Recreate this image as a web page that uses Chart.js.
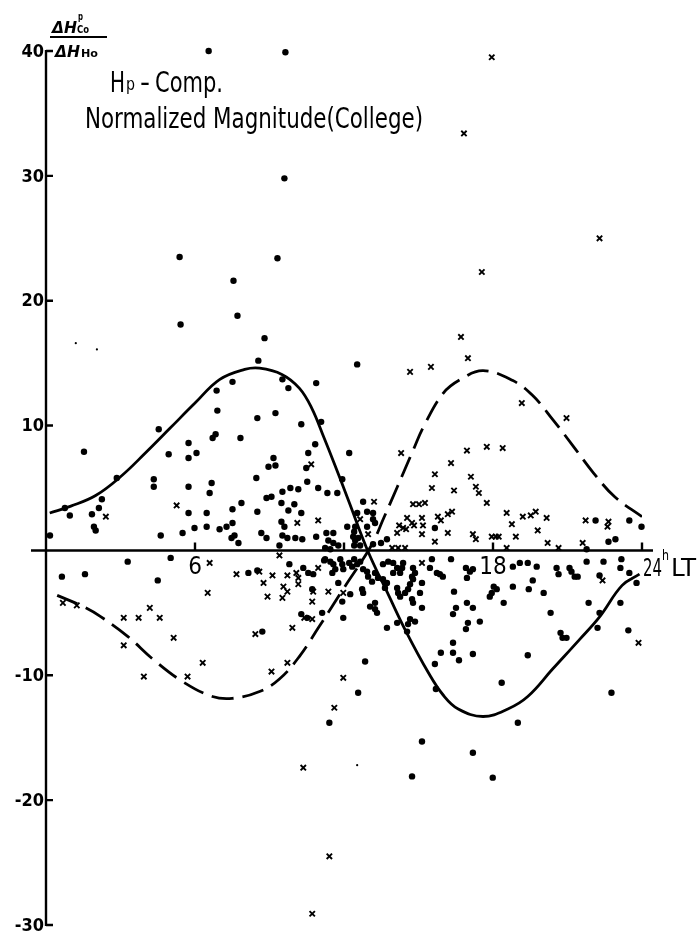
<!DOCTYPE html>
<html>
<head>
<meta charset="utf-8">
<title>Hp-Comp. Normalized Magnitude (College)</title>
<script src="https://cdn.jsdelivr.net/npm/chart.js@4.4.0/dist/chart.umd.min.js"></script>
<style>
  html, body { margin: 0; padding: 0; background: #fff; }
  #wrap { position: relative; width: 697px; height: 933px; }
</style>
</head>
<body>
<div id="wrap"><canvas id="hpChart" width="697" height="933"></canvas></div>
<script>
// axis ticks
var yTickValues = [40, 30, 20, 10, -10, -20, -30];
var xTickValues = [6, 12, 18, 24];
var xTickLabels = ['6', '', '18', '24'];

// smoothed daily variation curves (local time in hours, ratio)
var solidHours  = [0.15, 1, 2, 3, 4, 5, 6, 7, 8, 8.6, 9.5, 10.2, 10.7, 11.2, 11.6, 12.2, 12.95, 13.8, 14.5, 15.4, 16.0, 16.6, 17.6, 18.6, 19.4, 20.4, 21.5, 22.3, 23.2, 23.9];
var solidValues = [3.0, 3.55, 4.4, 5.9, 7.8, 9.8, 11.8, 13.7, 14.5, 14.6, 14.1, 13.0, 11.4, 9.0, 7.0, 3.9, 0, -3.6, -6.5, -9.8, -11.6, -12.7, -13.3, -12.7, -11.7, -9.5, -7.1, -5.3, -2.8, -1.9];

var dashedHours  = [0.45, 1.5, 2.2, 3.3, 4.3, 5.5, 6.7, 7.5, 8.6, 9.4, 10.2, 11.0, 12.0, 13.1, 13.6, 14.15, 14.8, 15.2, 16.0, 16.7, 17.6, 18.8, 19.6, 20.4, 21.25, 22.05, 22.9, 24.0];
var dashedValues = [-3.6, -4.5, -5.3, -6.9, -8.7, -10.5, -11.7, -11.85, -11.3, -10.3, -8.5, -6.1, -3.0, 0.4, 2.6, 5.1, 8.1, 9.9, 12.6, 13.7, 14.4, 13.6, 12.4, 10.5, 8.3, 6.2, 4.3, 2.7];

// observed values, [hour, ratio]
var dotPoints = [
  [6.55, 40.0], [9.64, 39.9], [9.6, 29.8], [5.38, 23.5], [9.32, 23.4], [7.55, 21.6], [5.42, 18.1], [7.71, 18.8],
  [8.8, 17.0], [8.55, 15.2], [12.53, 14.9], [7.51, 13.5], [6.87, 12.8], [9.52, 13.7], [9.76, 13.0], [10.88, 13.4],
  [6.9, 11.2], [8.51, 10.6], [9.24, 11.0], [10.28, 10.1], [11.08, 10.3], [4.54, 9.7], [5.74, 8.6], [6.71, 9.0],
  [6.83, 9.3], [7.83, 9.0], [10.84, 8.5], [1.53, 7.9], [4.94, 7.7], [5.74, 7.4], [6.06, 7.8], [10.56, 7.8],
  [8.96, 6.7], [9.24, 6.8], [9.16, 7.4], [2.85, 5.8], [4.34, 5.7], [4.34, 5.1], [5.74, 5.1], [6.67, 5.4],
  [6.59, 4.6], [8.47, 5.8], [10.52, 5.5], [9.52, 4.7], [9.84, 5.0], [10.16, 4.9], [10.96, 5.0], [11.33, 4.6],
  [11.73, 4.6], [12.21, 7.8], [11.93, 5.7], [8.88, 4.2], [9.08, 4.3], [7.87, 3.8], [7.51, 3.3], [8.51, 3.1],
  [9.48, 3.8], [9.76, 3.2], [10.0, 3.7], [10.28, 3.0], [5.74, 3.0], [6.47, 3.0], [0.16, 1.2], [0.76, 3.4],
  [0.96, 2.8], [1.85, 2.9], [2.13, 3.4], [2.25, 4.1], [1.93, 1.9], [2.0, 1.6], [4.62, 1.2], [5.5, 1.4],
  [5.98, 1.8], [6.47, 1.9], [6.99, 1.7], [7.27, 1.9], [7.51, 2.2], [7.47, 1.0], [7.59, 1.2], [7.75, 0.6],
  [8.67, 1.4], [8.88, 1.0], [9.4, 0.4], [9.48, 2.3], [9.6, 1.9], [9.52, 1.2], [9.72, 1.0], [10.04, 1.0],
  [10.32, 0.9], [10.88, 1.1], [11.29, 1.4], [11.57, 1.4], [12.13, 1.9], [10.48, 6.6], [12.77, 3.9], [12.93, 3.1],
  [13.17, 3.0], [13.17, 2.5], [12.93, 1.9], [13.25, 2.2], [12.37, 1.1], [12.45, 0.8], [12.57, 1.0], [12.65, 0.4],
  [12.41, 0.4], [11.37, 0.8], [11.57, 0.6], [11.77, 0.4], [11.24, 0.2], [11.45, 0.1], [13.73, 0.9], [13.17, 0.5],
  [15.66, 1.8], [12.53, 3.0], [12.45, 1.9], [12.41, 1.5], [13.49, 0.6], [21.77, 0.1], [22.13, 2.4], [22.65, 0.7],
  [22.93, 0.9], [23.49, 2.4], [23.98, 1.9],
  [3.29, -0.9], [5.02, -0.6], [0.64, -2.1], [1.57, -1.9], [4.5, -2.4], [8.15, -1.8], [8.51, -1.6], [9.8, -1.1],
  [10.36, -1.4], [10.56, -1.8], [10.76, -1.9], [11.2, -0.8], [11.77, -2.6], [12.25, -3.5], [11.93, -4.1], [8.71, -6.5],
  [10.28, -5.1], [10.52, -5.4], [11.12, -5.0], [11.97, -5.4], [11.41, -13.8], [11.24, -0.7], [11.45, -0.9], [11.57, -1.1],
  [11.65, -1.5], [11.53, -1.8], [11.85, -0.7], [11.93, -1.1], [11.97, -1.5], [12.21, -1.0], [12.33, -1.3], [12.41, -0.7],
  [12.53, -1.1], [12.65, -0.9], [12.77, -1.5], [12.93, -1.7], [12.97, -2.1], [13.13, -2.5], [13.25, -1.8], [13.37, -2.2],
  [13.73, -2.6], [13.65, -3.0], [12.73, -3.1], [12.77, -3.4], [10.72, -3.1], [13.05, -4.5], [13.25, -4.2], [13.25, -4.7],
  [13.33, -5.0], [13.73, -6.2], [13.57, -1.1], [13.78, -0.9], [13.98, -1.0], [14.14, -1.4], [14.38, -1.0], [14.34, -1.4],
  [14.26, -1.8], [14.78, -1.4], [14.86, -1.8], [14.74, -2.1], [15.54, -0.7], [15.46, -1.4], [15.74, -1.8], [15.86, -1.9],
  [15.98, -2.1], [16.31, -0.7], [16.91, -1.4], [17.07, -1.7], [17.19, -1.5], [16.95, -2.2], [13.57, -2.3], [13.98, -1.8],
  [14.78, -2.3], [14.66, -2.7], [14.58, -3.1], [14.46, -3.4], [15.14, -2.6], [14.14, -3.0], [14.18, -3.4], [14.26, -3.7],
  [14.74, -3.9], [14.78, -4.2], [15.14, -4.6], [15.06, -3.4], [18.03, -2.9], [18.15, -3.1], [17.95, -3.4], [17.87, -3.7],
  [18.43, -4.2], [16.51, -4.6], [16.95, -4.2], [17.19, -4.6], [16.39, -5.1], [17.47, -5.7], [16.99, -5.8], [16.91, -6.3],
  [14.66, -5.5], [14.86, -5.7], [14.58, -5.9], [14.14, -5.8], [14.54, -6.5], [16.43, -3.3], [18.8, -1.3], [19.08, -1.0],
  [19.4, -1.0], [19.76, -1.3], [19.6, -2.4], [18.8, -2.9], [19.44, -3.1], [20.04, -3.4], [20.56, -1.4], [20.64, -1.9],
  [21.08, -1.4], [21.16, -1.7], [21.29, -2.1], [21.41, -2.1], [21.77, -0.9], [22.29, -2.0], [22.45, -0.9], [23.17, -0.7],
  [23.13, -1.4], [23.49, -1.8], [23.78, -2.6], [23.13, -4.2], [21.85, -4.2], [20.32, -5.0], [22.29, -5.0], [24.42, -4.5],
  [20.72, -6.6], [20.8, -7.0], [20.96, -7.0], [22.21, -6.2], [23.45, -6.4], [16.39, -7.4], [16.39, -8.2], [16.63, -8.8],
  [15.9, -8.2], [15.66, -9.1], [15.7, -11.1], [17.19, -8.3], [19.4, -8.4], [18.35, -10.6], [19.0, -13.8], [22.77, -11.4],
  [12.85, -8.9], [12.57, -11.4], [15.14, -15.3], [17.19, -16.2], [14.74, -18.1], [17.99, -18.2]
];

var crossPoints = [
  [17.95, 39.5], [16.83, 33.4], [22.29, 25.0], [17.55, 22.3], [16.71, 17.1], [16.99, 15.4], [14.66, 14.3], [15.5, 14.7],
  [19.16, 11.8], [20.96, 10.6], [14.3, 7.8], [16.95, 8.0], [17.75, 8.3], [18.39, 8.2], [16.31, 7.0], [15.66, 6.1],
  [17.11, 5.9], [15.54, 5.0], [16.43, 4.8], [17.31, 5.1], [17.43, 4.6], [17.75, 3.8], [14.78, 3.7], [15.02, 3.7],
  [15.26, 3.8], [14.54, 2.6], [14.74, 2.2], [14.82, 2.0], [14.22, 2.0], [14.38, 1.8], [14.5, 1.7], [15.14, 2.6],
  [15.18, 2.0], [15.78, 2.7], [15.9, 2.4], [16.18, 2.9], [16.35, 3.1], [15.14, 1.3], [16.18, 1.4], [15.66, 0.7],
  [17.19, 1.3], [17.31, 0.9], [17.95, 1.1], [18.11, 1.1], [18.23, 1.1], [18.55, 3.0], [18.55, 0.2], [14.14, 1.4],
  [13.94, 0.2], [14.18, 0.2], [14.46, 0.2], [18.76, 2.1], [19.2, 2.7], [19.52, 2.8], [19.72, 3.1], [20.16, 2.6],
  [19.8, 1.6], [18.92, 1.1], [20.2, 0.6], [20.64, 0.2], [21.73, 2.4], [22.65, 2.3], [22.61, 1.9], [21.61, 0.6],
  [13.21, 3.9], [12.65, 2.5], [12.97, 1.3], [15.14, -1.0], [22.41, -2.4], [23.86, -7.4], [10.68, 6.9], [5.26, 3.6],
  [10.12, 2.2], [10.96, 2.4], [2.41, 2.7], [6.59, -1.0], [9.4, -0.4], [7.67, -1.9], [8.59, -1.7], [9.12, -2.0],
  [9.72, -2.0], [10.08, -1.8], [10.16, -2.2], [10.96, -1.4], [8.76, -2.6], [8.92, -3.7], [9.52, -3.8], [9.56, -2.9],
  [9.72, -3.3], [10.16, -2.7], [10.76, -3.3], [10.72, -4.1], [11.37, -3.3], [6.51, -3.4], [0.68, -4.2], [1.24, -4.4],
  [3.13, -5.4], [3.73, -5.4], [4.18, -4.6], [4.58, -5.4], [3.13, -7.6], [5.14, -7.0], [3.94, -10.1], [5.7, -10.1],
  [6.31, -9.0], [8.43, -6.7], [9.08, -9.7], [9.72, -9.0], [9.92, -6.2], [10.4, -5.4], [10.72, -5.5], [11.97, -10.2],
  [11.61, -12.6], [10.36, -17.4], [11.41, -24.5], [9.16, -30.5], [11.97, -3.4], [10.72, -29.1]
];

// faint specks
var speckPoints = [[1.2, 16.6], [2.05, 16.1], [12.53, -17.2]];

function toXY(hours, values) {
  return hours.map(function (h, i) { return { x: h, y: values[i] }; });
}
function pairsToXY(pairs) {
  return pairs.map(function (p) { return { x: p[0], y: p[1] }; });
}

var labelFont = '"Liberation Sans Narrow", "DejaVu Sans Condensed", sans-serif';
var numFont = '"DejaVu Sans Condensed", "Liberation Sans Narrow", sans-serif';

// draw text squeezed/stretched to a given width
function fitText(ctx, text, x, y, font, width) {
  ctx.font = font;
  var w = ctx.measureText(text).width;
  ctx.save();
  ctx.translate(x, y);
  ctx.scale(width / w, 1);
  ctx.textAlign = 'left';
  ctx.textBaseline = 'alphabetic';
  ctx.fillText(text, 0, 0);
  ctx.restore();
}

// hand drawn style axes through the origin
var axesPlugin = {
  id: 'originAxes',
  beforeDatasetsDraw: function (chart) {
    var ctx = chart.ctx, xs = chart.scales.x, ys = chart.scales.y;
    var x0 = xs.getPixelForValue(0), y0 = ys.getPixelForValue(0);
    ctx.save();
    ctx.strokeStyle = '#000';
    ctx.fillStyle = '#000';
    ctx.lineWidth = 2.4;
    ctx.lineCap = 'butt';
    ctx.beginPath();
    ctx.moveTo(x0, ys.getPixelForValue(40) - 1);
    ctx.lineTo(x0, ys.getPixelForValue(-30) + 1);
    yTickValues.forEach(function (v) {
      var py = ys.getPixelForValue(v);
      ctx.moveTo(x0, py);
      ctx.lineTo(x0 + 7, py);
    });
    ctx.moveTo(x0 - 15, y0);
    ctx.lineTo(xs.getPixelForValue(24) + 11, y0);
    xTickValues.forEach(function (h) {
      var px = xs.getPixelForValue(h);
      ctx.moveTo(px, y0);
      ctx.lineTo(px, y0 - 8);
    });
    ctx.stroke();

    // y tick labels
    ctx.font = 'bold 18px ' + numFont;
    ctx.textAlign = 'right';
    ctx.textBaseline = 'middle';
    yTickValues.forEach(function (v) {
      ctx.fillText(String(v), x0 - 2, ys.getPixelForValue(v) + 1);
    });

    // x tick labels
    ctx.font = '24px ' + labelFont;
    ctx.textAlign = 'center';
    ctx.textBaseline = 'top';
    xTickValues.forEach(function (h, i) {
      if (!xTickLabels[i] || h === 24) return;
      ctx.fillText(xTickLabels[i], xs.getPixelForValue(h), y0 + 5);
    });
    var px24 = xs.getPixelForValue(24);
    fitText(ctx, '24', px24 + 1, y0 + 26, '24px ' + labelFont, 19);
    fitText(ctx, 'h', px24 + 20, y0 + 10, '14px ' + labelFont, 7);
    fitText(ctx, 'LT', px24 + 29, y0 + 26, '24px ' + labelFont, 25);
    ctx.restore();
  },
  afterDraw: function (chart) {
    var ctx = chart.ctx;
    ctx.save();
    ctx.fillStyle = '#000';
    ctx.strokeStyle = '#000';

    // y axis quantity: dH(Co, p) / dH(Ho)
    fitText(ctx, '\u0394H', 52, 33, 'italic bold 16px ' + numFont, 25);
    fitText(ctx, 'p', 78, 20, 'bold 10px ' + numFont, 5);
    fitText(ctx, 'Co', 77, 33, 'bold 10px ' + numFont, 12);
    ctx.lineWidth = 2;
    ctx.beginPath();
    ctx.moveTo(50, 37);
    ctx.lineTo(107, 37);
    ctx.stroke();
    fitText(ctx, '\u0394H', 55, 57, 'italic bold 16px ' + numFont, 25);
    fitText(ctx, 'Ho', 81, 57, 'bold 10px ' + numFont, 17);

    // title
    fitText(ctx, 'H', 110, 92, '28px ' + labelFont, 15);
    fitText(ctx, 'p', 126, 90, '17px ' + labelFont, 9);
    fitText(ctx, '-', 140, 92, '28px ' + labelFont, 10);
    fitText(ctx, 'Comp.', 155, 92, '28px ' + labelFont, 68);
    fitText(ctx, 'Normalized Magnitude(College)', 85, 128, '29px ' + labelFont, 338);
    ctx.restore();
  }
};

new Chart(document.getElementById('hpChart'), {
  type: 'scatter',
  data: {
    datasets: [{
      label: 'solid',
      data: toXY(solidHours, solidValues),
      showLine: true,
      borderColor: '#000',
      borderWidth: 2.8,
      pointRadius: 0,
      tension: 0.4,
      fill: false
    }, {
      label: 'dashed',
      data: toXY(dashedHours, dashedValues),
      showLine: true,
      borderColor: '#000',
      borderWidth: 2.8,
      borderDash: [22, 9],
      pointRadius: 0,
      tension: 0.4,
      fill: false
    }, {
      label: 'dots',
      data: pairsToXY(dotPoints),
      pointStyle: 'circle',
      pointRadius: 3.2,
      backgroundColor: '#000',
      borderColor: '#000',
      borderWidth: 0,
      clip: false
    }, {
      label: 'crosses',
      data: pairsToXY(crossPoints),
      pointStyle: 'crossRot',
      pointRadius: 3.8,
      borderColor: '#000',
      borderWidth: 1.9,
      clip: false
    }, {
      label: 'specks',
      data: pairsToXY(speckPoints),
      pointStyle: 'circle',
      pointRadius: 1.1,
      backgroundColor: '#000',
      borderWidth: 0,
      clip: false
    }]
  },
  options: {
    responsive: false,
    animation: false,
    devicePixelRatio: 1,
    layout: { padding: { left: 46, right: 55, top: 51, bottom: 8 } },
    scales: {
      x: { type: 'linear', min: 0, max: 24, display: false },
      y: { type: 'linear', min: -30, max: 40, display: false }
    },
    plugins: {
      legend: { display: false },
      tooltip: { enabled: false }
    }
  },
  plugins: [axesPlugin]
});
</script>
</body>
</html>
